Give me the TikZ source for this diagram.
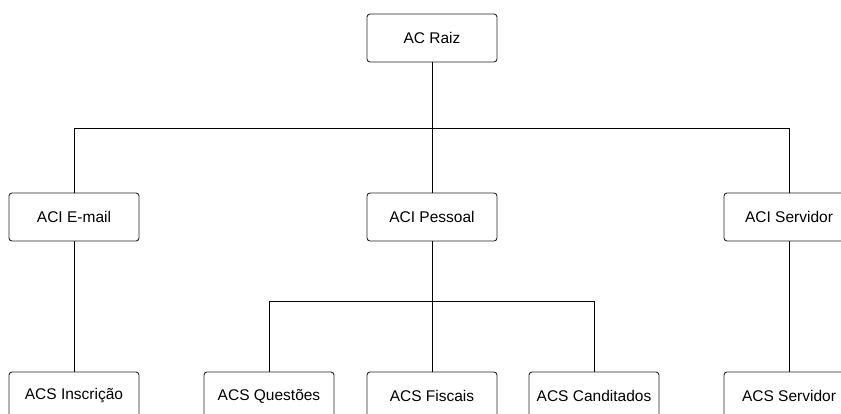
\documentclass[tikz,border=0pt]{standalone}
\usepackage{fontspec}
\setmainfont{Liberation Sans}
\begin{document}
\begin{tikzpicture}[x=1pt,y=-1pt,
  cabox/.style={draw=black!85, line width=0.9pt, rounded corners=3pt, fill=white,
    minimum width=130pt, minimum height=48pt, inner sep=0pt,
    font=\fontsize{15.5}{18}\selectfont},
  link/.style={draw=black, line width=0.9pt}]
\useasboundingbox (0,0) rectangle (841,414);
\clip (0,0) rectangle (841,414);
% root
\node[cabox] (raiz) at (432,38) {AC Raiz};
% intermediate CAs
\node[cabox] (email) at (74,217) {ACI E-mail};
\node[cabox] (pessoal) at (432,217) {ACI Pessoal};
\node[cabox] (servidorI) at (789,217) {ACI Servidor};
% issuing CAs
\node[cabox] (inscricao) at (74,396) {ACS Inscrição};
\node[cabox] (questoes) at (269,396) {ACS Questões};
\node[cabox] (fiscais) at (432,396) {ACS Fiscais};
\node[cabox] (canditados) at (594,396) {ACS Canditados};
\node[cabox] (servidorS) at (789,396) {ACS Servidor};
% junction points
\coordinate (j1) at (432,128);
\coordinate (j2) at (432,301);
% tree connectors
\draw[link] (raiz.south) -- (j1);
\draw[link] (j1) -| (email.north);
\draw[link] (j1) -- (pessoal.north);
\draw[link] (j1) -| (servidorI.north);
\draw[link] (email.south) -- (inscricao.north);
\draw[link] (pessoal.south) -- (j2);
\draw[link] (j2) -| (questoes.north);
\draw[link] (j2) -- (fiscais.north);
\draw[link] (j2) -| (canditados.north);
\draw[link] (servidorI.south) -- (servidorS.north);
\end{tikzpicture}
\end{document}
